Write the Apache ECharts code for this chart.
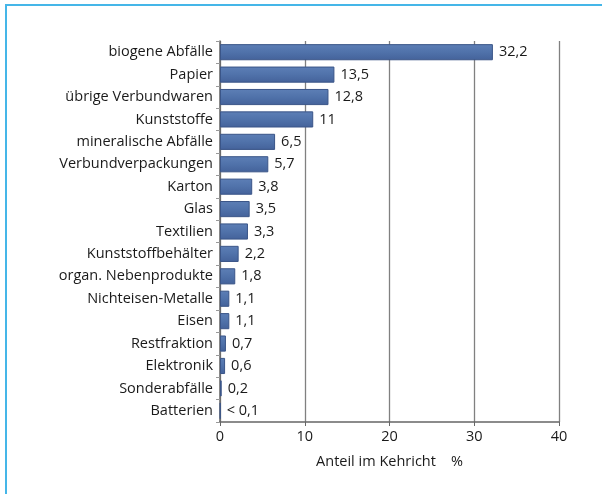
<!DOCTYPE html>
<html>
<head>
<meta charset="utf-8">
<script src="https://cdn.jsdelivr.net/npm/echarts@6/dist/echarts.min.js"></script>
<style>
  html, body { margin: 0; padding: 0; background: #fff; }
  #frame { position: absolute; left: 5px; top: 4px; width: 620px; height: 520px;
           border-top: 2px solid #45b6e8; border-left: 2px solid #45b6e8; }
  #chart { position: absolute; left: 0; top: 0; width: 602px; height: 494px; }
</style>
</head>
<body>
<div id="frame"></div>
<div id="chart"></div>
<script>
// Kehrichtzusammensetzung, Anteil in %
const categories = ['biogene Abfälle', 'Papier', 'übrige Verbundwaren', 'Kunststoffe',
  'mineralische Abfälle', 'Verbundverpackungen', 'Karton', 'Glas', 'Textilien',
  'Kunststoffbehälter', 'organ. Nebenprodukte', 'Nichteisen-Metalle', 'Eisen',
  'Restfraktion', 'Elektronik', 'Sonderabfälle', 'Batterien']
const values = [32.2, 13.5, 12.8, 11, 6.5, 5.7, 3.8, 3.5, 3.3, 2.2, 1.8, 1.1, 1.1, 0.7, 0.6, 0.2, 0.05]
const valueLabels = ['32,2', '13,5', '12,8', '11', '6,5', '5,7', '3,8', '3,5', '3,3',
  '2,2', '1,8', '1,1', '1,1', '0,7', '0,6', '0,2', '< 0,1']
const xTicks = [0, 10, 20, 30, 40]

const font = 'Open Sans, Noto Sans, sans-serif'
const textColor = '#1a1a1a'
const chart = echarts.init(document.getElementById('chart'))

chart.setOption({
  animation: false,
  grid: { left: 220, right: 43, top: 41, bottom: 72 },
  xAxis: {
    type: 'value',
    min: xTicks[0],
    max: xTicks[xTicks.length - 1],
    interval: 10,
    name: 'Anteil im Kehricht    %',
    nameLocation: 'middle',
    nameGap: 32,
    nameTextStyle: { color: textColor, fontSize: 14.5, fontFamily: font },
    axisLine: { show: true, lineStyle: { color: '#666', width: 1.5 } },
    axisTick: { show: true, length: 4, lineStyle: { color: '#666' } },
    axisLabel: { color: textColor, fontSize: 14.5, fontFamily: font, margin: 7 },
    splitLine: { show: true, lineStyle: { color: '#808080', width: 1.3 } }
  },
  yAxis: {
    type: 'category',
    data: categories,
    inverse: true,
    axisLine: { show: true, lineStyle: { color: '#666', width: 1.5 } },
    axisTick: { show: true, length: 4, lineStyle: { color: '#999' } },
    axisLabel: { color: textColor, fontSize: 14.5, fontFamily: font, margin: 7 }
  },
  series: [{
    type: 'bar',
    data: values,
    barCategoryGap: '28%',
    itemStyle: {
      color: new echarts.graphic.LinearGradient(0, 0, 0, 1, [
        { offset: 0, color: '#5d7fb6' },
        { offset: 0.5, color: '#5072aa' },
        { offset: 1, color: '#44629a' }
      ]),
      borderColor: '#3a5588',
      borderWidth: 1
    },
    label: {
      show: true,
      position: 'right',
      distance: 6,
      color: textColor,
      fontSize: 14.5,
      fontFamily: font,
      formatter: p => valueLabels[p.dataIndex]
    }
  }]
})
</script>
</body>
</html>
